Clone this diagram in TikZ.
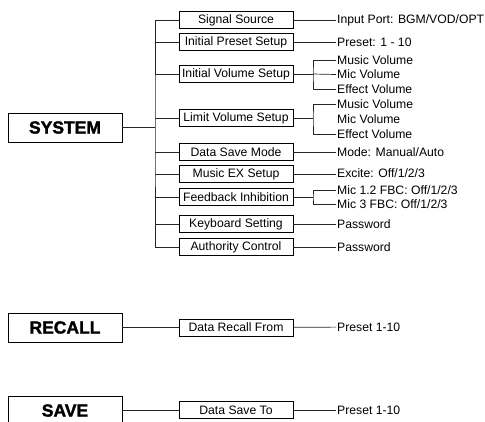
\documentclass[tikz,border=0pt]{standalone}
\usepackage{fontspec}
\setmainfont{Liberation Sans}
\newfontfamily\heavyfont[FakeBold=1.8]{Liberation Sans Bold}
\usetikzlibrary{positioning}

\begin{document}
\begin{tikzpicture}[
    x=1pt, y=-1pt,
    mainbox/.style={rectangle, draw, line width=0.9pt, minimum width=114pt, minimum height=29pt, inner sep=0pt, font=\fontsize{17.5}{20}\heavyfont},
    subbox/.style={rectangle, draw, line width=0.7pt, minimum width=114pt, minimum height=17pt, inner sep=0pt, font=\fontsize{12.2}{14}\selectfont},
    leaf/.style={anchor=west, inner xsep=1pt, inner ysep=0pt, font=\fontsize{12.2}{14}\selectfont},
    link/.style={line width=0.7pt, draw=black!85}
]
\useasboundingbox (0,0) rectangle (485,421);
\clip (0,0) rectangle (485,421);

% main menus
\node[mainbox] (sys) at (65,127.5) {SYSTEM};
\node[mainbox] (rec) at (65,327.5) {RECALL};
\node[mainbox] (sav) at (65,410.5) {SAVE};

% SYSTEM sub menus
\node[subbox] (src)  at (236,20)  {Signal Source};
\node[subbox] (pre)  at (236,42)  {Initial Preset Setup};
\node[subbox] (ivol) at (236,74)  {Initial Volume Setup};
\node[subbox] (lvol) at (236,118) {Limit Volume Setup};
\node[subbox] (dsm)  at (236,152) {Data Save Mode};
\node[subbox] (mex)  at (236,174) {Music EX Setup};
\node[subbox] (fbi)  at (236,197) {Feedback Inhibition};
\node[subbox] (kbd)  at (236,224) {Keyboard Setting};
\node[subbox] (auth) at (236,247) {Authority Control};

\node[subbox] (drf) at (236,327.5) {Data Recall From};
\node[subbox] (dst) at (236,410) {Data Save To};

% settings
\node[leaf] (srcv)  at (336,20)  {Input Port: BGM/VOD/OPT};
\node[leaf] (prev)  at (336,42)  {Preset: 1 - 10};
\node[leaf] (ivm)   at (336,60)  {Music Volume};
\node[leaf] (ivi)   at (336,74.5){Mic Volume};
\node[leaf] (ive)   at (336,89)  {Effect Volume};
\node[leaf] (lvm)   at (336,104) {Music Volume};
\node[leaf] (lvi)   at (336,119) {Mic Volume};
\node[leaf] (lve)   at (336,134) {Effect Volume};
\node[leaf] (dsmv)  at (336,152) {Mode: Manual/Auto};
\node[leaf] (mexv)  at (336,173) {Excite: Off/1/2/3};
\node[leaf] (fba)   at (336,190) {Mic 1.2 FBC: Off/1/2/3};
\node[leaf] (fbb)   at (336,204) {Mic 3 FBC: Off/1/2/3};
\node[leaf] (kbdv)  at (336,224) {Password};
\node[leaf] (authv) at (336,247) {Password};
\node[leaf] (drfv)  at (336,327) {Preset 1-10};
\node[leaf] (dstv)  at (336,410) {Preset 1-10};

% trunk
\coordinate (trunk) at (155,127.5);
\draw[link] (sys) -- (trunk);
\draw[link] (src.west) -| (trunk) |- (auth.west);
\draw[link] (trunk |- pre.west) -- (pre.west);
\draw[link] (trunk |- ivol.west) -- (ivol.west);
\draw[link] (trunk |- lvol.west) -- (lvol.west);
\draw[link] (trunk |- dsm.west) -- (dsm.west);
\draw[link] (trunk |- mex.west) -- (mex.west);
\draw[link] (trunk |- fbi.west) -- (fbi.west);
\draw[link] (trunk |- kbd.west) -- (kbd.west);

% single settings
\draw[link] (src) -- (srcv);
\draw[link] (pre) -- (prev);
\draw[link] (dsm) -- (dsmv);
\draw[link] (mex.east) -- (mex.east -| mexv.west);
\draw[link] (kbd) -- (kbdv);
\draw[link] (auth) -- (authv);

% brackets
\coordinate (ivolj) at (313,74);
\draw[link] (ivol) -- (ivolj);
\draw[link] (ivm.west) -| (ivolj) |- (ive.west);
\draw[link] (ivolj) -- (ivi.west);

\coordinate (lvolj) at (313,118);
\draw[link] (lvol) -- (lvolj);
\draw[link] (lvm.west) -| (lvolj) |- (lve.west);

\coordinate (fbij) at (313,197);
\draw[link] (fbi) -- (fbij);
\draw[link] (fba.west) -| (fbij) |- (fbb.west);

% recall / save
\draw[link] (rec) -- (drf);
\draw[link] (drf) -- (drfv);
\draw[link] (sav.east |- dst) -- (dst);
\draw[link] (dst) -- (dstv);

\end{tikzpicture}
\end{document}
